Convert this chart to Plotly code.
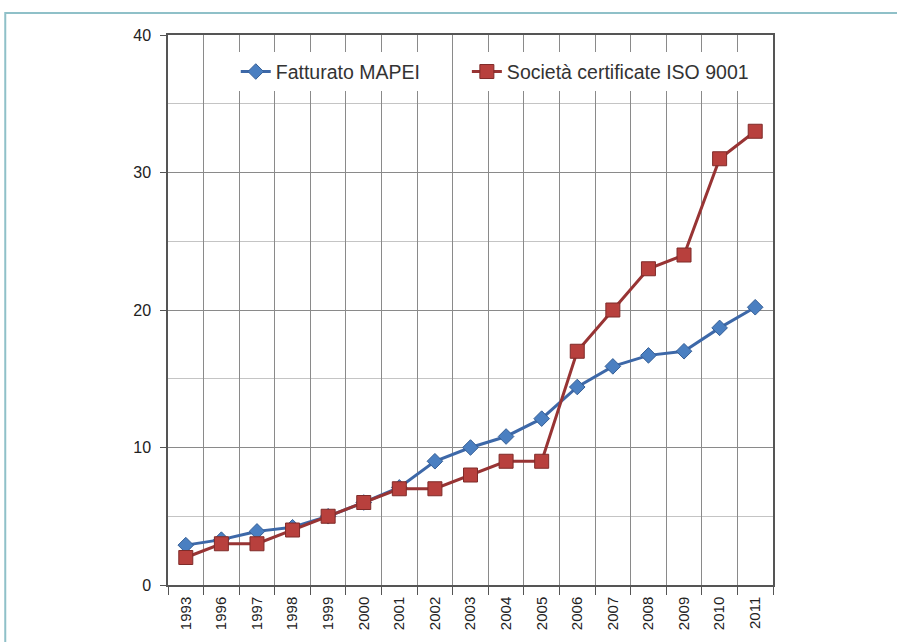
import plotly.graph_objects as go

# Years on the category axis
anni = ["1993", "1996", "1997", "1998", "1999", "2000", "2001", "2002", "2003",
        "2004", "2005", "2006", "2007", "2008", "2009", "2010", "2011"]

# Fatturato MAPEI
fatturato = [2.9, 3.3, 3.9, 4.2, 5.0, 6.0, 7.1, 9.0, 10.0,
             10.8, 12.1, 14.4, 15.9, 16.7, 17.0, 18.7, 20.2]

# Società certificate ISO 9001
societa = [2, 3, 3, 4, 5, 6, 7, 7, 8,
           9, 9, 17, 20, 23, 24, 31, 33]

y_ticks = [0, 10, 20, 30, 40]

FONT = "Liberation Sans"
LEGEND_FONT = dict(size=19.5, color="#333333")

fig = go.Figure()

fig.add_trace(go.Scatter(
    x=anni, y=fatturato, name="Fatturato MAPEI",
    mode="lines+markers",
    line=dict(color="#3d68a8", width=3),
    marker=dict(symbol="diamond", size=12, color="#4a7fc1",
                line=dict(color="#365f96", width=1)),
    legend="legend",
))

fig.add_trace(go.Scatter(
    x=anni, y=societa, name="Società certificate ISO 9001",
    mode="lines+markers",
    line=dict(color="#983434", width=3),
    marker=dict(symbol="square", size=14, color="#b8403d",
                line=dict(color="#7f2b29", width=1)),
    legend="legend2",
))

# Outer frame around the whole chart
fig.add_shape(
    type="rect", xref="paper", yref="paper",
    x0=-0.269, x1=1.215, y0=-0.2, y1=1.04,
    line=dict(color="#8fc0c8", width=2), fillcolor="rgba(0,0,0,0)",
    layer="below",
)

fig.update_layout(
    width=897, height=642,
    margin=dict(l=168, r=124, t=35, b=57),
    paper_bgcolor="white", plot_bgcolor="white",
    font=dict(family=FONT, size=13, color="#333333"),
    showlegend=True,
    legend=dict(
        orientation="h", x=0.112, y=0.933, xanchor="left", yanchor="middle",
        bgcolor="white", font=LEGEND_FONT,
    ),
    legend2=dict(
        orientation="h", x=0.494, y=0.933, xanchor="left", yanchor="middle",
        bgcolor="white", font=LEGEND_FONT,
    ),
    xaxis=dict(
        type="category", tickson="boundaries",
        showgrid=True, gridcolor="#8a8a8a", gridwidth=1,
        showline=True, linecolor="#555555", linewidth=1.5, mirror=True,
        ticks="outside", ticklen=8, tickcolor="#555555",
        ticklabelstandoff=4,
        tickangle=-90, tickfont=dict(size=15, color="#222222"),
        range=[-0.5, 16.5],
    ),
    yaxis=dict(
        range=[0, 40], tickvals=y_ticks,
        showgrid=True, gridcolor="#8a8a8a", gridwidth=1,
        minor=dict(dtick=5, showgrid=True, gridcolor="#c4c4c4", gridwidth=1),
        showline=True, linecolor="#555555", linewidth=1.5, mirror=True,
        ticks="outside", ticklen=6, tickcolor="#555555",
        ticklabelstandoff=6,
        tickfont=dict(size=16, color="#222222"),
        zeroline=False,
    ),
)

fig.write_html("out.html")
